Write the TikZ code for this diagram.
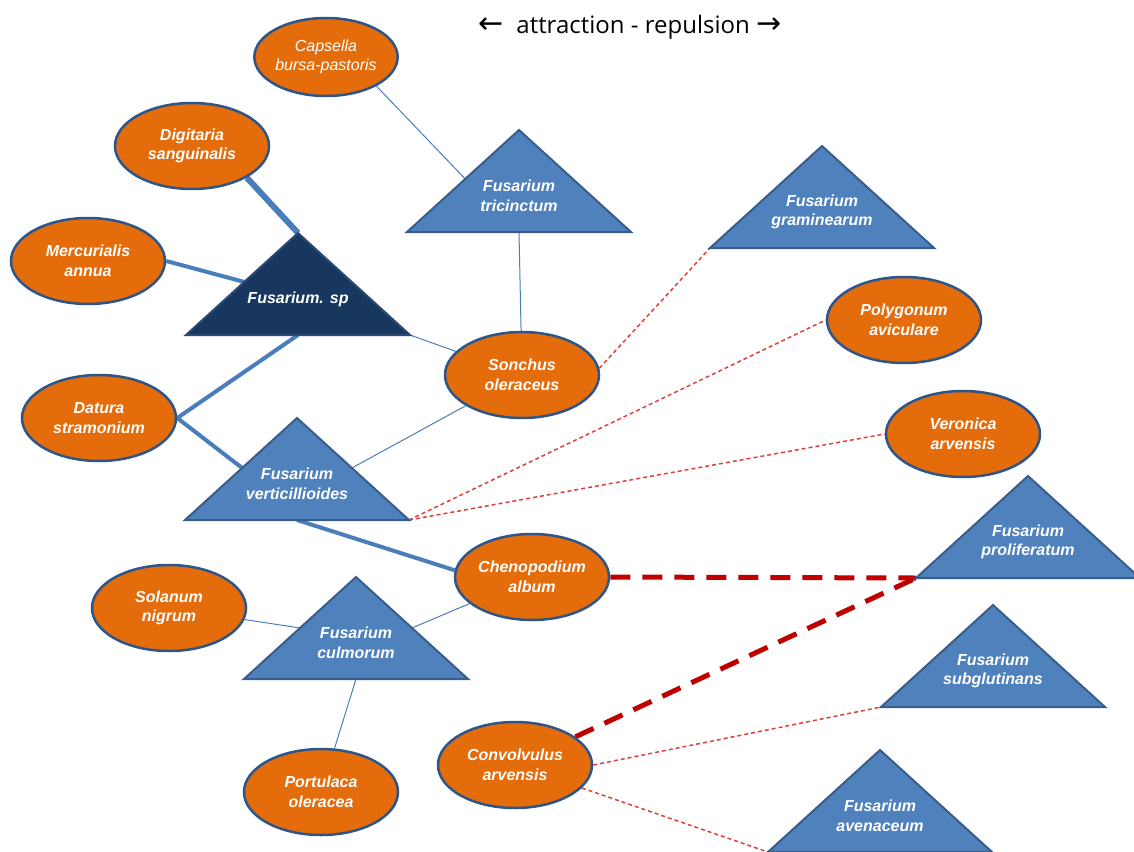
\documentclass[tikz,border=0pt]{standalone}
\usepackage{fontspec}
\setmainfont{Liberation Sans}
\newfontfamily\titlefont{Open Sans}
\newfontfamily\arrowfont{DejaVu Sans}
\usetikzlibrary{shapes.geometric,calc}
\definecolor{plantfill}{HTML}{E46C0A}
\definecolor{plantline}{HTML}{2E5588}
\definecolor{trifill}{HTML}{4F81BD}
\definecolor{triline}{HTML}{385D8A}
\definecolor{darkfill}{HTML}{17375E}
\definecolor{darkline}{HTML}{2A4A75}
\definecolor{linkblue}{HTML}{4A7EBB}
\definecolor{thinred}{HTML}{E0403A}
\definecolor{thickred}{HTML}{C00000}
\pgfdeclarelayer{bg}
\pgfsetlayers{bg,main}
\newcommand{\fusa}[5]{% name, apex x, apex y, fill style, text
  \begin{scope}[shift={(#2,#3)}]
    \coordinate (#1-top) at (0,0);
    \coordinate (#1-left) at (-112,102);
    \coordinate (#1-right) at (112,102);
    \coordinate (#1-base) at (0,102);
    \path[#4] (#1-top) -- (#1-right) -- (#1-left) -- cycle;
    \node[trilabel] (#1) at (0,66) {#5};
  \end{scope}}
\begin{document}
\begin{tikzpicture}[x=1pt,y=-1pt,
  labelfont/.style={font=\bfseries\itshape\fontsize{16}{19.5}\selectfont},
  plant/.style={ellipse, draw=plantline, line width=2.5pt, fill=plantfill,
    minimum width=154pt, minimum height=86pt, inner sep=0pt, text=white,
    align=center, labelfont},
  trilabel/.style={text=white, align=center, labelfont, inner sep=1pt},
  fusshape/.style={fill=trifill, draw=triline, line width=2pt, line join=miter},
  darkshape/.style={fill=darkfill, draw=darkline, line width=2pt, line join=miter},
  thin/.style={draw=linkblue, line width=1pt},
  medium/.style={draw=linkblue, line width=4pt},
  heavy/.style={draw=linkblue, line width=6pt},
  repel/.style={draw=thinred, line width=1.5pt, dash pattern=on 4pt off 3pt},
  strongrepel/.style={draw=thickred, line width=5pt, dash pattern=on 20pt off 12pt}]
\useasboundingbox (0,0) rectangle (1134,851);
\clip (0,0) rectangle (1134,851);

% title
\node[font=\titlefont\fontsize{24}{28}\selectfont, inner sep=0pt] (title) at (630,27)
  {{\arrowfont\fontsize{30}{30}\selectfont ←}\ \ attraction - repulsion\ {\arrowfont\fontsize{30}{30}\selectfont →}};

% triangles
\fusa{tric}{519}{130}{fusshape}{Fusarium\\tricinctum}
\fusa{gram}{822}{146}{fusshape}{Fusarium\\graminearum}
\fusa{fsp}{298}{233}{darkshape}{Fusarium. sp}
\fusa{vert}{297}{418}{fusshape}{Fusarium\\verticillioides}
\fusa{prol}{1028}{476}{fusshape}{Fusarium\\proliferatum}
\fusa{culm}{356}{577}{fusshape}{Fusarium\\culmorum}
\fusa{subg}{993}{605}{fusshape}{Fusarium\\subglutinans}
\fusa{aven}{880}{750}{fusshape}{Fusarium\\avenaceum}

% plants
\node[plant, minimum width=142pt, minimum height=78pt, font=\itshape\fontsize{16}{19.5}\selectfont] (caps) at (326,57) {Capsella\\bursa-pastoris};
\node[plant] (digi) at (192,146) {Digitaria\\sanguinalis};
\node[plant] (merc) at (88,261) {Mercurialis\\annua};
\node[plant] (datu) at (99,418) {Datura\\stramonium};
\node[plant] (sonc) at (522,375) {Sonchus\\oleraceus};
\node[plant] (poly) at (904,320) {Polygonum\\aviculare};
\node[plant] (vero) at (963,434) {Veronica\\arvensis};
\node[plant] (chen) at (532,577) {Chenopodium\\album};
\node[plant] (sola) at (169,608) {Solanum\\nigrum};
\node[plant] (port) at (321,792) {Portulaca\\oleracea};
\node[plant] (conv) at (515,765) {Convolvulus\\arvensis};

% edge points on triangle sides
\coordinate (tric-e) at ($(tric-top)!0.48!(tric-left)$);
\coordinate (fsp-e) at ($(fsp-top)!0.48!(fsp-left)$);
\coordinate (vert-el) at ($(vert-top)!0.49!(vert-left)$);
\coordinate (vert-er) at ($(vert-top)!0.49!(vert-right)$);
\coordinate (culm-el) at ($(culm-top)!0.5!(culm-left)$);
\coordinate (culm-er) at ($(culm-top)!0.5!(culm-right)$);

\begin{pgfonlayer}{bg}
\draw[thin] (caps.-30) -- (tric-e);
\draw[thin] (tric-base) -- (sonc);
\draw[heavy] (digi.-30) -- (fsp-top);
\draw[medium] (merc.east) -- (fsp-e);
\draw[thin] (fsp-right) -- (sonc);
\draw[medium] (fsp-base) -- (datu.east);
\draw[medium] (datu.east) -- (vert-el);
\draw[thin] (sonc) -- (vert-er);
\draw[medium] (vert-base) -- (chen.175);
\draw[thin] (chen) -- (culm-er);
\draw[thin] (sola) -- (culm-el);
\draw[thin] (culm-base) -- (port);
\draw[repel] (sonc.5) -- (gram-left);
\draw[repel] (vert-right) -- (poly.west);
\draw[repel] (vert-right) -- (vero.west);
\draw[repel] (conv.east) -- (subg-left);
\draw[repel] (conv) -- (aven-left);
\draw[strongrepel] (chen.east) -- (prol-left);
\draw[strongrepel] (conv) -- (prol-left);
\end{pgfonlayer}
\end{tikzpicture}
\end{document}
